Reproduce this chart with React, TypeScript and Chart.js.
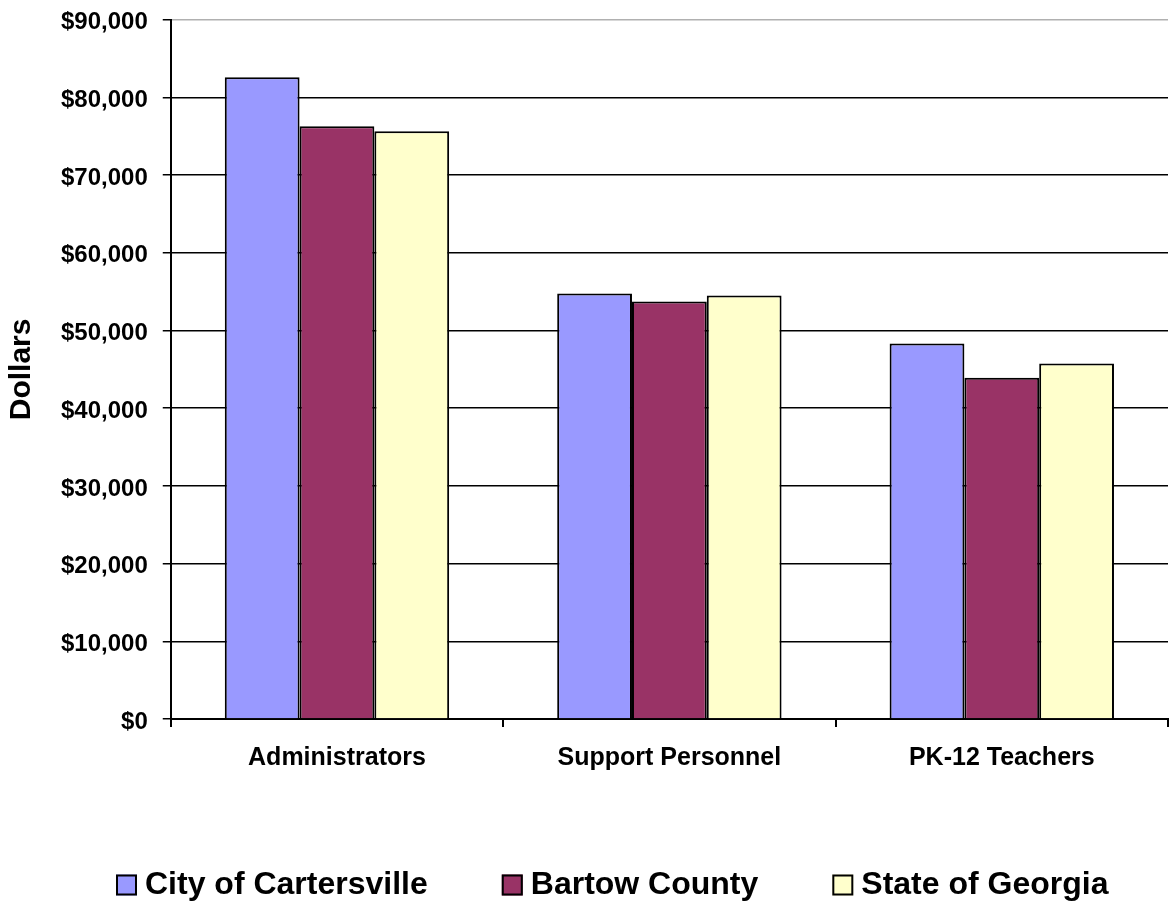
import React, { useEffect, useRef } from "react";
import { Chart, registerables } from "chart.js";

Chart.register(...registerables);

const categories = ["Administrators", "Support Personnel", "PK-12 Teachers"];
const seriesNames = ["City of Cartersville", "Bartow County", "State of Georgia"];
const cityValues = [82600, 54770, 48320];
const bartowValues = [76290, 53740, 43940];
const stateValues = [75640, 54510, 45750];
const seriesColors = ["#9999FF", "#993366", "#FFFFCC"];
const yAxisTitle = "Dollars";

const FONT = "'Liberation Sans', Arial, Helvetica, sans-serif";

const legendPlugin = {
  id: "excelLegend",
  afterDraw(chart: any) {
    const ctx = chart.ctx;
    ctx.save();
    ctx.font = `bold 32px ${FONT}`;
    ctx.textBaseline = "middle";
    ctx.textAlign = "left";
    const box = 21;
    const gapText = 8;
    const gapItem = 74;
    let x = 116;
    const yMid = 885;
    chart.data.datasets.forEach((ds: any) => {
      ctx.fillStyle = ds.backgroundColor;
      ctx.fillRect(x, yMid - box / 2, box, box);
      ctx.lineWidth = 2;
      ctx.strokeStyle = "#000";
      ctx.strokeRect(x + 1, yMid - box / 2 + 1, box - 2, box - 2);
      ctx.fillStyle = "#000";
      const tx = x + box + gapText;
      ctx.fillText(ds.label, tx, yMid);
      x = tx + ctx.measureText(ds.label).width + gapItem;
    });
    ctx.restore();
  },
};

export default function App() {
  const ref = useRef<HTMLCanvasElement | null>(null);

  useEffect(() => {
    if (!ref.current) return;
    const values = [cityValues, bartowValues, stateValues];
    const chart = new Chart(ref.current, {
      type: "bar",
      data: {
        labels: categories,
        datasets: seriesNames.map((name, i) => ({
          label: name,
          data: values[i],
          backgroundColor: seriesColors[i],
          borderColor: "#000",
          borderWidth: 2,
          categoryPercentage: 0.675,
          barPercentage: 1,
        })),
      },
      options: {
        responsive: false,
        animation: false,
        layout: { padding: { left: 0, right: 2, top: 11, bottom: 116 } },
        plugins: {
          legend: { display: false },
          tooltip: { enabled: false },
        },
        scales: {
          x: {
            grid: {
              display: true,
              drawOnChartArea: false,
              drawTicks: true,
              tickLength: 8,
              color: "#000",
              lineWidth: 2,
            },
            border: { display: true, color: "#000", width: 2 },
            ticks: {
              color: "#000",
              padding: 16,
              font: { family: FONT, size: 25, weight: "bold" },
            },
          },
          y: {
            min: 0,
            max: 90000,
            grid: {
              color: (c: any) => (c.tick && c.tick.value === 90000 ? "#b0b0b0" : "#000"),
              tickColor: "#000",
              lineWidth: 1.5,
              tickLength: 8,
            },
            border: { display: true, color: "#000", width: 2 },
            ticks: {
              stepSize: 10000,
              color: "#000",
              padding: 15,
              labelOffset: 3,
              font: { family: FONT, size: 24, weight: "bold", lineHeight: 0.4 },
              callback: (v: any) => "$" + Number(v).toLocaleString("en-US"),
            },
            title: {
              display: true,
              text: yAxisTitle,
              color: "#000",
              font: { family: FONT, size: 30, weight: "bold" },
              padding: { top: 4, bottom: 6 },
            },
          },
        },
      },
      plugins: [legendPlugin],
    });
    return () => chart.destroy();
  }, []);

  return (
    <div style={{ position: "absolute", left: 0, top: 0, width: 1170, height: 905, background: "#fff" }}>
      <canvas ref={ref} width={1170} height={905} />
    </div>
  );
}
